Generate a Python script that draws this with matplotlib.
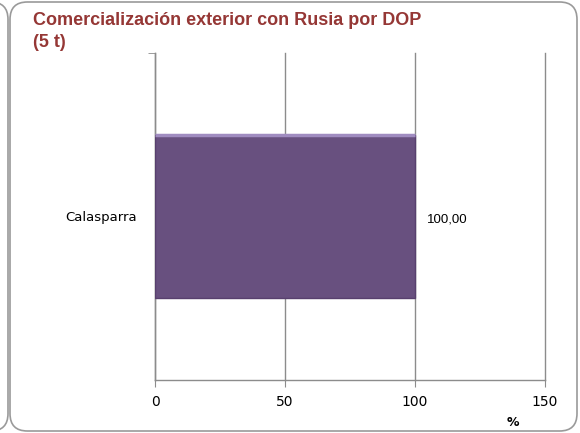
import matplotlib.pyplot as plt
from matplotlib.patches import FancyBboxPatch

categories = ['Calasparra']
values = [100.0]
value_labels = ['100,00']
xticks = [0, 50, 100, 150]

title = 'Comercialización exterior con Rusia por DOP\n(5 t)'
title_color = '#953735'
bar_color = '#68507f'
grid_color = '#8c8c8c'

W, H = 580, 433
fig = plt.figure(figsize=(W / 100, H / 100), dpi=100)

# rounded panel frames (main one plus the edge of the panel to the left)
frame = FancyBboxPatch((10 / W, 2 / H), 567 / W, 429 / H,
                       boxstyle='round,pad=0,rounding_size=0.03',
                       transform=fig.transFigure, facecolor='white',
                       edgecolor='#9a9a9a', linewidth=1.2, mutation_aspect=W / H,
                       zorder=-2)
left_panel = FancyBboxPatch((-60 / W, 2 / H), 68 / W, 429 / H,
                            boxstyle='round,pad=0,rounding_size=0.03',
                            transform=fig.transFigure, facecolor='white',
                            edgecolor='#9a9a9a', linewidth=1.2, mutation_aspect=W / H,
                            zorder=-2)
fig.patches.extend([left_panel, frame])

ax = fig.add_axes([155 / W, 1 - 380 / H, 390 / W, 327 / H])
ax.patch.set_alpha(0)

bars = ax.barh(categories, values, height=0.5, color=bar_color,
               edgecolor='#58406e', linewidth=1.0, zorder=3)
# lighter bevel along the top of the bar
for b in bars:
    ax.plot([b.get_x(), b.get_x() + b.get_width()],
            [b.get_y() + b.get_height(), b.get_y() + b.get_height()],
            color='#a08cc0', linewidth=2.5, zorder=4, solid_capstyle='butt')

for b, lab in zip(bars, value_labels):
    ax.text(b.get_width() + 4.5, b.get_y() + b.get_height() / 2 - 0.01, lab,
            ha='left', va='center', fontsize=9.5, family='Liberation Sans', color='black')

ax.set_xlim(0, 150)
ax.set_ylim(-0.5, 0.5)
ax.set_xticks(xticks)
ax.set_xticklabels([str(t) for t in xticks], fontsize=10)
ax.tick_params(axis='x', length=5, color=grid_color, pad=6)
ax.set_yticks([0])
ax.set_yticklabels(categories, fontsize=9.5)
ax.tick_params(axis='y', length=0, pad=13)
ax.set_yticks([0.5], minor=True)
ax.tick_params(axis='y', which='minor', length=5, color=grid_color)

ax.grid(axis='x', color=grid_color, linewidth=1, zorder=0)
for line in ax.get_xgridlines():
    line.set_clip_on(False)
for s in ['top', 'right']:
    ax.spines[s].set_visible(False)
for s in ['left', 'bottom']:
    ax.spines[s].set_color(grid_color)
    ax.spines[s].set_linewidth(1)

ax.text(513 / W, 1 - 422 / H, '%', transform=fig.transFigure, fontsize=9,
        fontweight='bold', ha='center', va='center')

fig.text(33 / W, 1 - 12 / H, title, fontsize=13, fontweight='bold',
         family='Liberation Sans',
         color=title_color, ha='left', va='top', linespacing=1.35)

fig.savefig('out.png', dpi=100)
